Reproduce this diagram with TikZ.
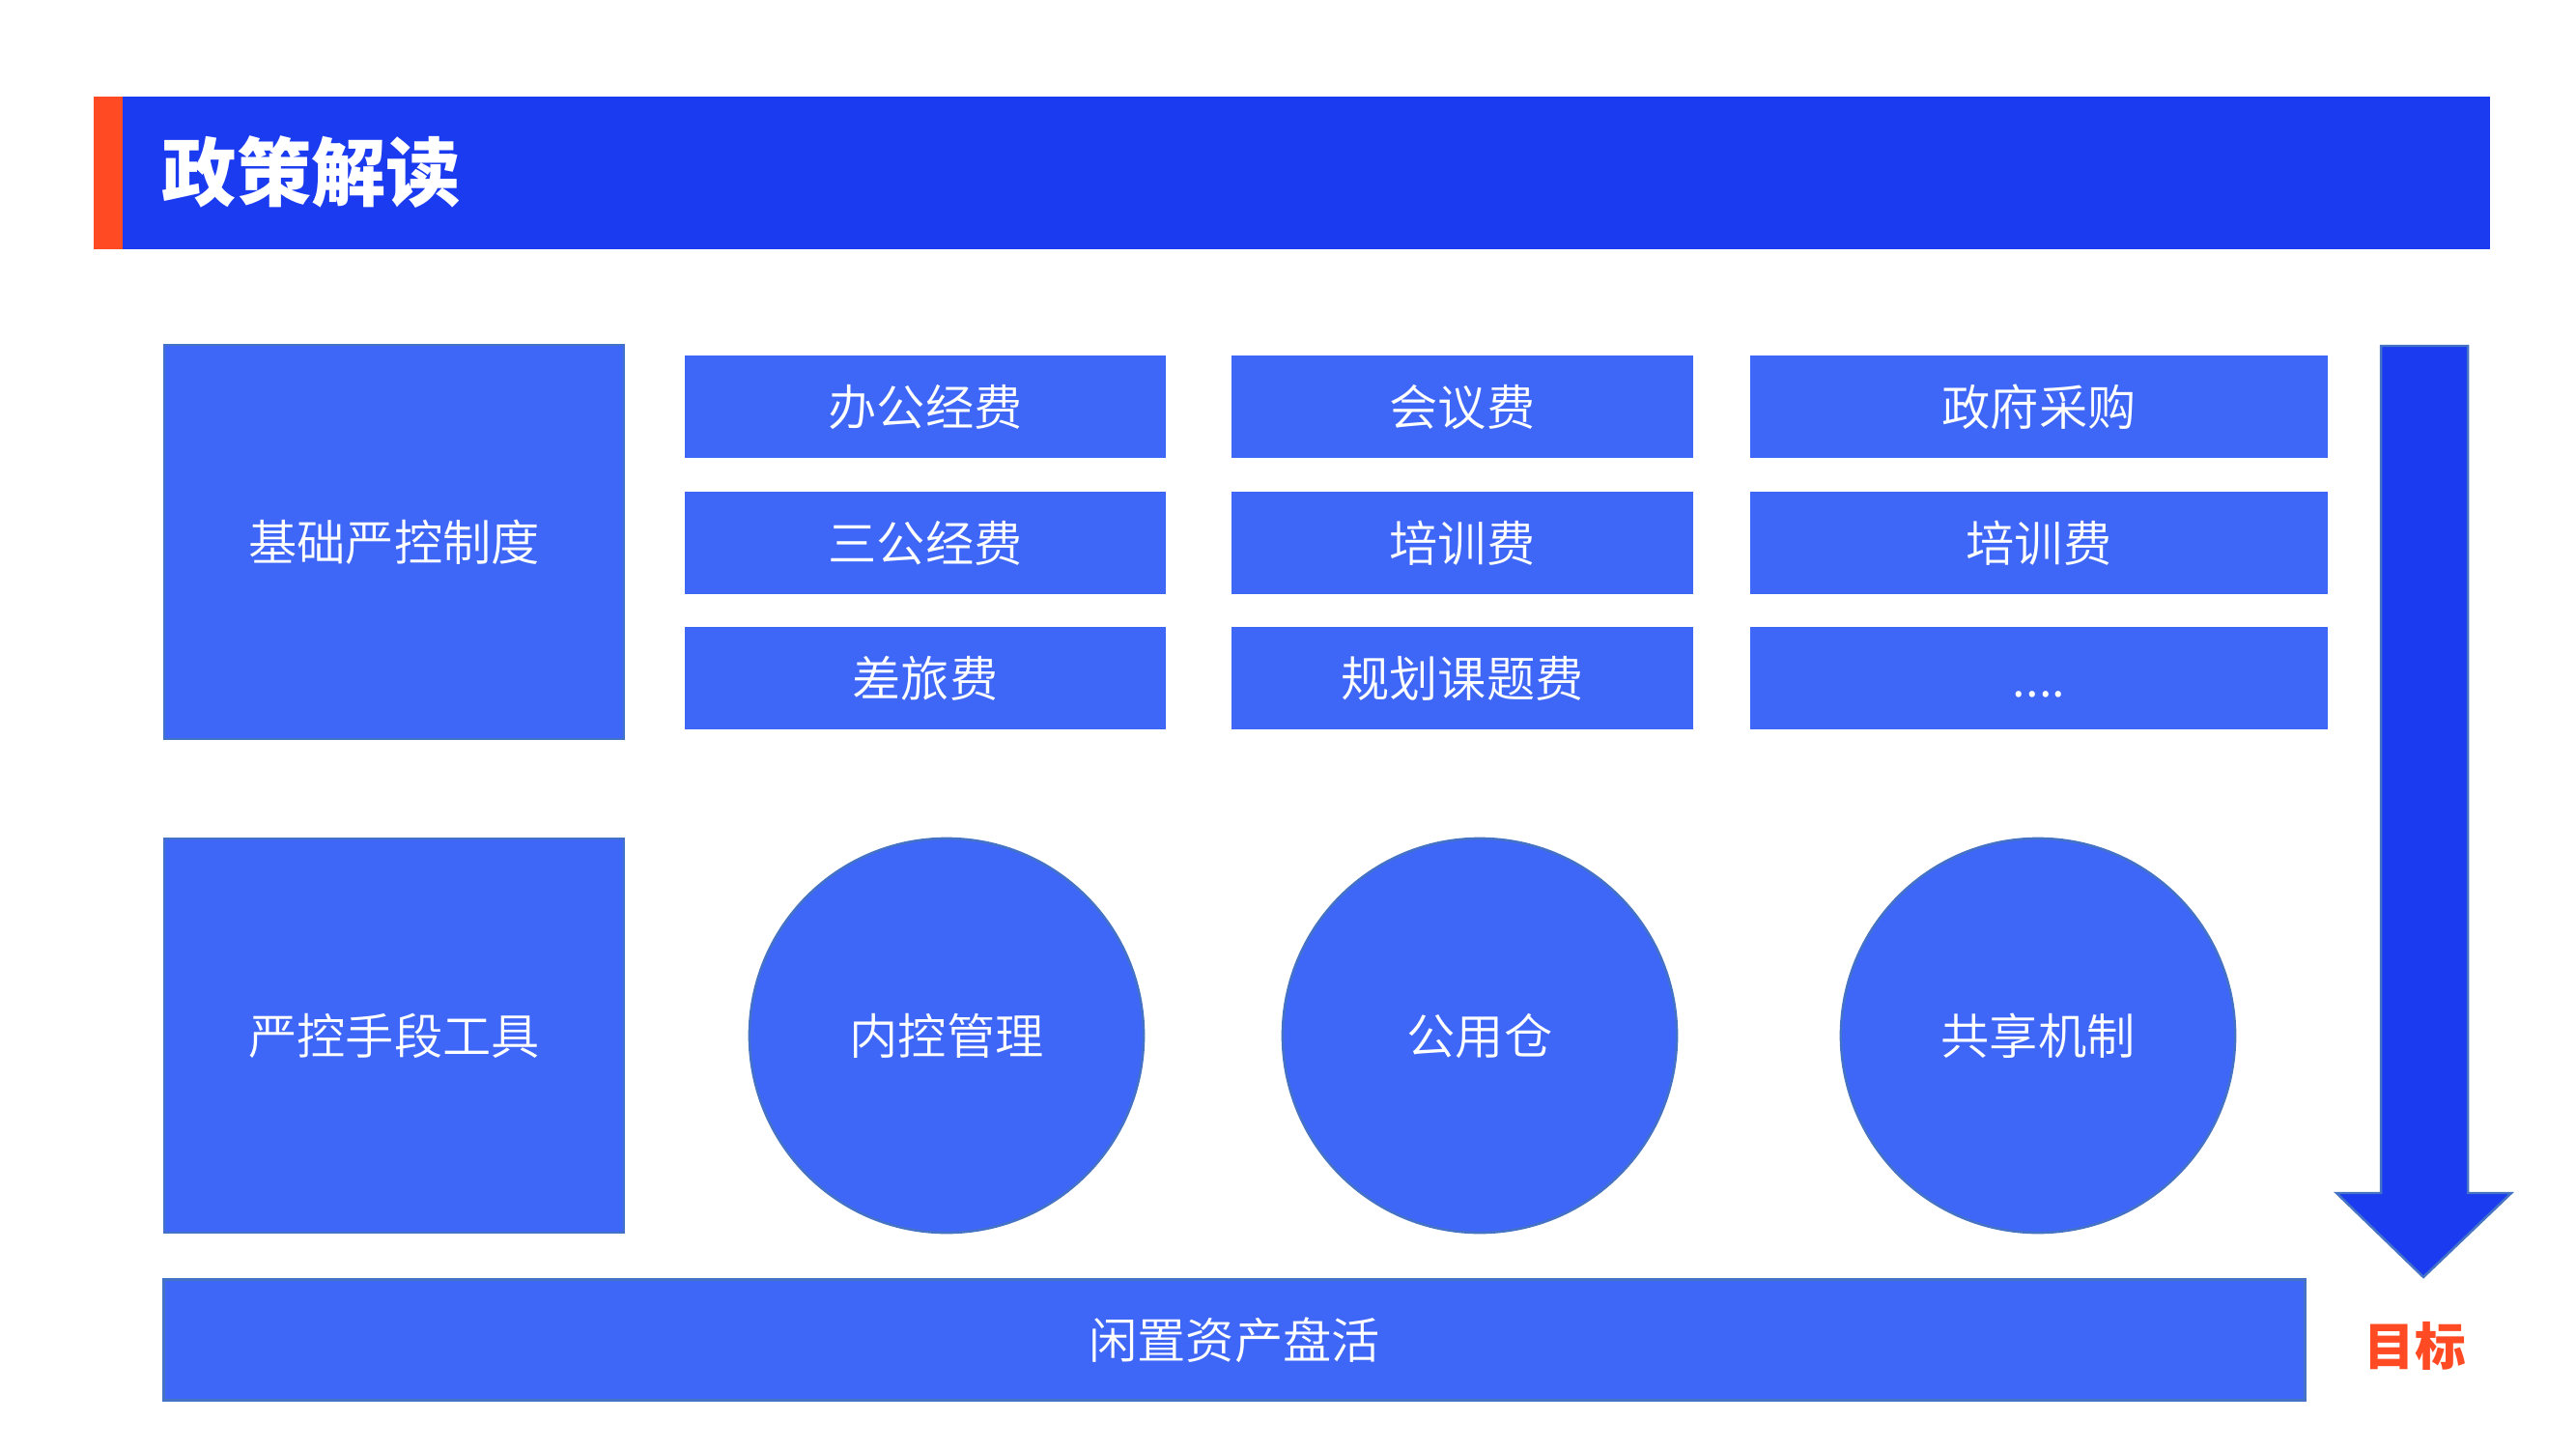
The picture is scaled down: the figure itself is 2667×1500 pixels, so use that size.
\documentclass[tikz,border=0pt]{standalone}
\usepackage{fontspec}
\setmainfont{Noto Sans CJK SC}
\newfontfamily\lightcjk{Noto Sans CJK SC DemiLight}
\usepackage{tikz}

\definecolor{deepblue}{RGB}{27,59,240}
\definecolor{boxblue}{RGB}{63,103,247}
\definecolor{edgeblue}{RGB}{68,114,196}
\definecolor{signal}{RGB}{255,74,35}

\begin{document}
\begin{tikzpicture}[x=0.01cm,y=-0.01cm,
  box/.style={fill=boxblue,text=white,font=\lightcjk\fontsize{14.3}{17}\selectfont,
    text height=12.6pt,text depth=1.7pt,inner sep=0pt},
  tile/.style={box,minimum width=#1,minimum height=1.06cm},
  big/.style={box,draw=edgeblue,line width=0.7pt,minimum width=4.76cm,minimum height=4.08cm},
  disc/.style={box,circle,draw=edgeblue,line width=0.7pt,minimum size=4.08cm}]
\useasboundingbox (0,0) rectangle (2667,1500);
\fill[deepblue] (97,100) rectangle (2578,258);
\fill[signal] (97,100) rectangle (127,258);
\node[font=\fontsize{22}{26}\selectfont\bfseries,text=white,anchor=west,inner sep=0pt] (title) at (167,178) {政策解读};
\node[big] (jichu) at (408,561) {基础严控制度};
\node[tile=4.97cm] (bangong) at (958,421) {办公经费};
\node[tile=4.77cm] (huiyi) at (1514,421) {会议费};
\node[tile=5.98cm] (caigou) at (2111,421) {政府采购};
\node[tile=4.97cm] (sangong) at (958,562) {三公经费};
\node[tile=4.77cm] (peixun) at (1514,562) {培训费};
\node[tile=5.98cm] (peixunb) at (2111,562) {培训费};
\node[tile=4.97cm] (chailv) at (958,702) {差旅费};
\node[tile=4.77cm] (guihua) at (1514,702) {规划课题费};
\node[tile=5.98cm] (gengduo) at (2111,702) {....};
\node[big] (shouduan) at (408,1072) {严控手段工具};
\node[disc] (neikong) at (980,1072) {内控管理};
\node[disc] (gongyong) at (1532,1072) {公用仓};
\node[disc] (gongxiang) at (2110,1072) {共享机制};
\node[box,draw=edgeblue,line width=0.7pt,minimum width=22.16cm,minimum height=1.25cm] (xianzhi) at (1278,1387) {闲置资产盘活};
\draw[edgeblue,fill=deepblue,line width=0.7pt] (2465,358) -- (2555,358) -- (2555,1235) -- (2600,1235) -- (2509,1322) -- (2419,1235) -- (2465,1235) -- cycle;
\node[font=\fontsize{15}{18}\selectfont\bfseries,text=signal,inner sep=0pt] (mubiao) at (2500,1393) {目标};
\end{tikzpicture}
\end{document}
